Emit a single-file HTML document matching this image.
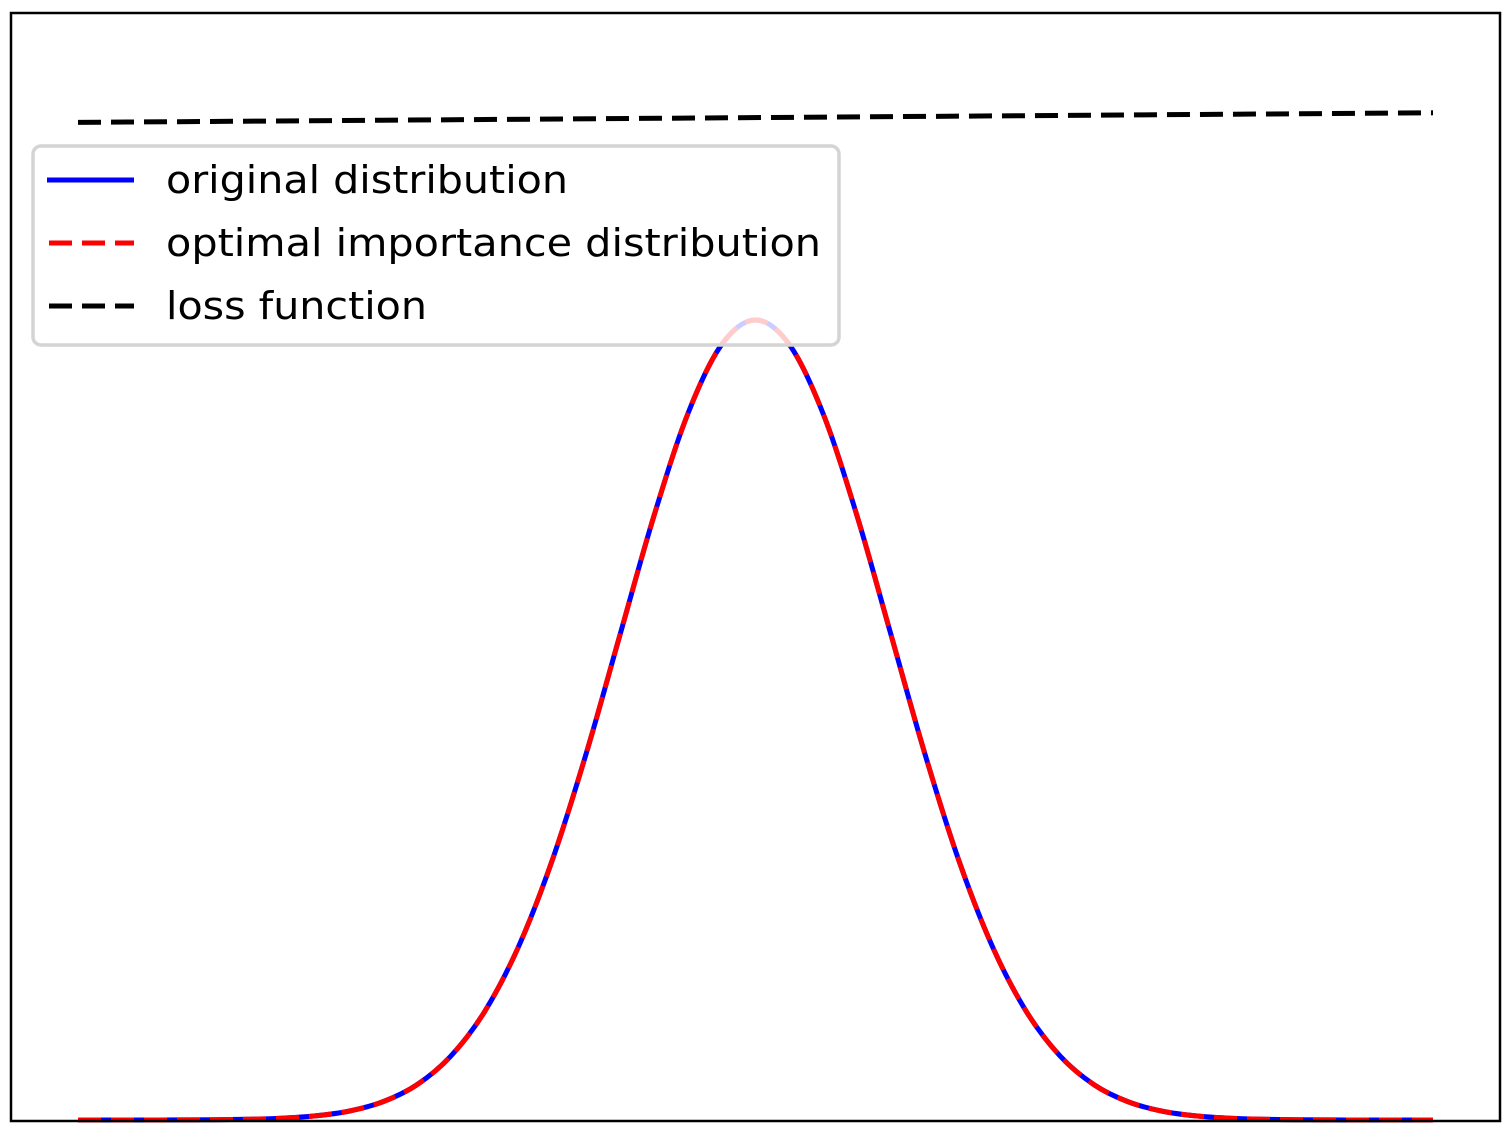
<!DOCTYPE html>
<html><head><meta charset="utf-8"><style>
html,body{margin:0;padding:0;background:#fff;}
svg{display:block;}
text{font-family:"DejaVu Sans","Liberation Sans",sans-serif;font-size:38px;fill:#000;}
</style></head><body>
<svg id="chart" width="1512" height="1135" viewBox="0 0 1512 1135">
<rect x="11" y="13" width="1489" height="1108" fill="#fff" stroke="none"/>
<g id="series"></g>
<g>
<rect x="33" y="146" width="806" height="199" rx="8" fill="rgba(255,255,255,0.8)" stroke="#d4d4d4" stroke-width="3.5"/>
<line x1="47" y1="180" x2="134" y2="180" stroke="#0000ff" stroke-width="5"/>
<text x="166" y="193" textLength="402" lengthAdjust="spacingAndGlyphs">original distribution</text>
<line x1="49" y1="243" x2="134" y2="243" stroke="#ff0000" stroke-width="5" stroke-dasharray="23,10"/>
<text x="166" y="256" textLength="655" lengthAdjust="spacingAndGlyphs">optimal importance distribution</text>
<line x1="49" y1="306" x2="134" y2="306" stroke="#000" stroke-width="5" stroke-dasharray="23,10"/>
<text x="166" y="319" textLength="261" lengthAdjust="spacingAndGlyphs">loss function</text>
</g>
<rect x="11" y="13" width="1489" height="1108" fill="none" stroke="#000" stroke-width="2.5"/>
</svg>
<script>
const xValues = [-5,-4.75,-4.5,-4.25,-4,-3.75,-3.5,-3.25,-3,-2.75,-2.5,-2.25,-2,-1.75,-1.5,-1.25,-1,-0.75,-0.5,-0.25,0,0.25,0.5,0.75,1,1.25,1.5,1.75,2,2.25,2.5,2.75,3,3.25,3.5,3.75,4,4.25,4.5,4.75,5];
const originalValues = [0,0.00001,0.00004,0.0001,0.0003,0.0009,0.0022,0.0051,0.0111,0.0228,0.0439,0.0796,0.1353,0.2163,0.3247,0.4578,0.6065,0.7548,0.8825,0.9692,1,0.9692,0.8825,0.7548,0.6065,0.4578,0.3247,0.2163,0.1353,0.0796,0.0439,0.0228,0.0111,0.0051,0.0022,0.0009,0.0003,0.0001,0.00004,0.00001,0];
const optimalValues = [0,0.00001,0.00004,0.0001,0.0003,0.0009,0.0022,0.0051,0.0111,0.0228,0.0439,0.0796,0.1353,0.2163,0.3247,0.4578,0.6065,0.7548,0.8825,0.9692,1,0.9692,0.8825,0.7548,0.6065,0.4578,0.3247,0.2163,0.1353,0.0796,0.0439,0.0228,0.0111,0.0051,0.0022,0.0009,0.0003,0.0001,0.00004,0.00001,0];
const lossX = [-5,5.0];
const lossValues = [1.247,1.259];

const sx = v => 755.5 + v * 135.5;
const sy = v => 1120 - v * 800;

function smoothPath(xs, ys){
  const p = xs.map((x,i)=>[sx(x), sy(ys[i])]);
  let d = 'M' + p[0][0] + ',' + p[0][1];
  for(let i=0;i<p.length-1;i++){
    const p0=p[Math.max(i-1,0)],p1=p[i],p2=p[i+1],p3=p[Math.min(i+2,p.length-1)];
    const c1=[p1[0]+(p2[0]-p0[0])/6,p1[1]+(p2[1]-p0[1])/6];
    const c2=[p2[0]-(p3[0]-p1[0])/6,p2[1]-(p3[1]-p1[1])/6];
    d+=' C'+c1[0]+','+c1[1]+' '+c2[0]+','+c2[1]+' '+p2[0]+','+p2[1];
  }
  return d;
}
const NS='http://www.w3.org/2000/svg';
const g=document.getElementById('series');

const blue=document.createElementNS(NS,'path');
blue.setAttribute('d',smoothPath(xValues,originalValues));
blue.setAttribute('fill','none');blue.setAttribute('stroke','#0000ff');blue.setAttribute('stroke-width','5');


g.appendChild(blue);

const red=document.createElementNS(NS,'path');
red.setAttribute('d',smoothPath(xValues,optimalValues));
red.setAttribute('fill','none');red.setAttribute('stroke','#ff0000');red.setAttribute('stroke-width','5');
red.setAttribute('stroke-dasharray','23,10');


g.appendChild(red);

const loss=document.createElementNS(NS,'line');
loss.setAttribute('x1',sx(lossX[0]));loss.setAttribute('y1',sy(lossValues[0]));
loss.setAttribute('x2',sx(lossX[1]));loss.setAttribute('y2',sy(lossValues[1]));
loss.setAttribute('stroke','#000');loss.setAttribute('stroke-width','5');loss.setAttribute('stroke-dasharray','23,10');


g.appendChild(loss);
</script>
</body></html>
